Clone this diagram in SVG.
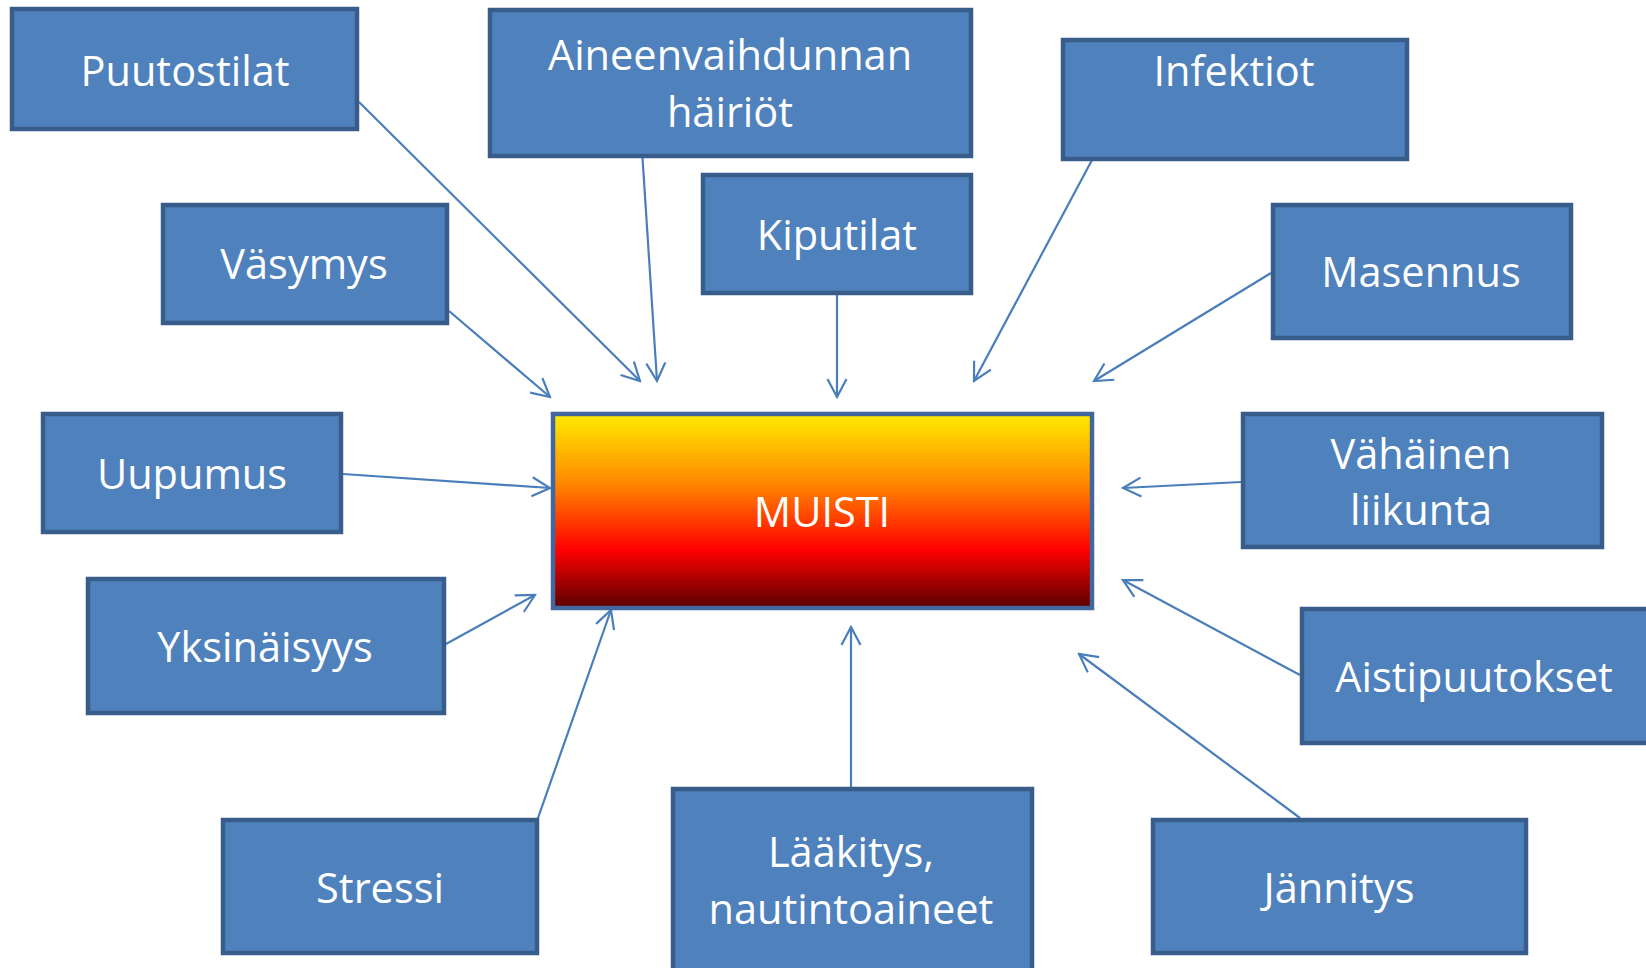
<svg xmlns="http://www.w3.org/2000/svg" width="1646" height="968" viewBox="0 0 1646 968">
<style>
.box{fill:#4F81BD;stroke:#385D8A;stroke-width:4.5}
.t{fill:#FFFFFF;font-family:"Open Sans","Noto Sans",sans-serif;font-size:41.5px;text-anchor:middle}
.c{stroke:#4A7EBB;stroke-width:2.2;fill:none;marker-end:url(#arr)}
</style>
<defs>
<linearGradient id="g" x1="0" y1="0" x2="0" y2="1">
<stop offset="0" stop-color="#FFEC00"/>
<stop offset="0.35" stop-color="#FF8A00"/>
<stop offset="0.7" stop-color="#FF0000"/>
<stop offset="1" stop-color="#5A0000"/>
</linearGradient>
<marker id="arr" markerUnits="userSpaceOnUse" viewBox="-22 -12 24 24" refX="0" refY="0" markerWidth="24" markerHeight="24" orient="auto">
<path d="M-18,-9.5 L0,0 L-18,9.5" fill="none" stroke="#4A7EBB" stroke-width="2.2"/>
</marker>
</defs>
<rect width="1646" height="968" fill="#FFFFFF"/>
<g id="connectors">
<line class="c" x1="359" y1="102" x2="640" y2="381"/>
<line class="c" x1="642" y1="150" x2="657" y2="381"/>
<line class="c" x1="837" y1="295" x2="837" y2="397"/>
<line class="c" x1="1092" y1="160" x2="974" y2="381"/>
<line class="c" x1="449" y1="311" x2="550" y2="397"/>
<line class="c" x1="1271" y1="273" x2="1094" y2="381"/>
<line class="c" x1="343" y1="474" x2="550" y2="488"/>
<line class="c" x1="1241" y1="482" x2="1123" y2="488"/>
<line class="c" x1="446" y1="644" x2="535" y2="595"/>
<line class="c" x1="1300" y1="675" x2="1123" y2="580"/>
<line class="c" x1="538" y1="818" x2="611" y2="610"/>
<line class="c" x1="851" y1="787" x2="851" y2="627"/>
<line class="c" x1="1300" y1="818" x2="1079" y2="654"/>
</g>
<g id="puutostilat"><rect class="box" x="12" y="9" width="345" height="120"/><text class="t" x="185" y="86">Puutostilat</text></g>
<g id="aineenvaihdunnan"><rect class="box" x="490" y="10" width="481" height="146"/><text class="t" x="730" y="70">Aineenvaihdunnan</text><text class="t" x="730" y="127">häiriöt</text></g>
<g id="kiputilat"><rect class="box" x="703" y="175" width="268" height="118"/><text class="t" x="837" y="250">Kiputilat</text></g>
<g id="infektiot"><rect class="box" x="1063" y="40" width="344" height="119"/><text class="t" x="1234" y="86">Infektiot</text></g>
<g id="vasymys"><rect class="box" x="163" y="205" width="284" height="118"/><text class="t" x="304" y="279">Väsymys</text></g>
<g id="masennus"><rect class="box" x="1273" y="205" width="298" height="133"/><text class="t" x="1421" y="287">Masennus</text></g>
<g id="uupumus"><rect class="box" x="43" y="414" width="298" height="118"/><text class="t" x="192" y="489">Uupumus</text></g>
<g id="muisti"><rect x="553" y="414" width="539" height="194" fill="url(#g)" stroke="#41679C" stroke-width="4.5"/><text class="t" x="822" y="527">MUISTI</text></g>
<g id="vahainen"><rect class="box" x="1243" y="414" width="359" height="133"/><text class="t" x="1421" y="469">Vähäinen</text><text class="t" x="1421" y="525">liikunta</text></g>
<g id="yksinaisyys"><rect class="box" x="88" y="579" width="356" height="134"/><text class="t" x="265" y="662">Yksinäisyys</text></g>
<g id="aistipuutokset"><rect class="box" x="1302" y="609" width="352" height="134"/><text class="t" x="1474" y="692">Aistipuutokset</text></g>
<g id="stressi"><rect class="box" x="223" y="820" width="314" height="133"/><text class="t" x="380" y="903">Stressi</text></g>
<g id="laakitys"><rect class="box" x="673" y="789" width="359" height="195"/><text class="t" x="851" y="867">Lääkitys,</text><text class="t" x="851" y="924">nautintoaineet</text></g>
<g id="jannitys"><rect class="box" x="1153" y="820" width="373" height="133"/><text class="t" x="1339" y="903">Jännitys</text></g>
</svg>
